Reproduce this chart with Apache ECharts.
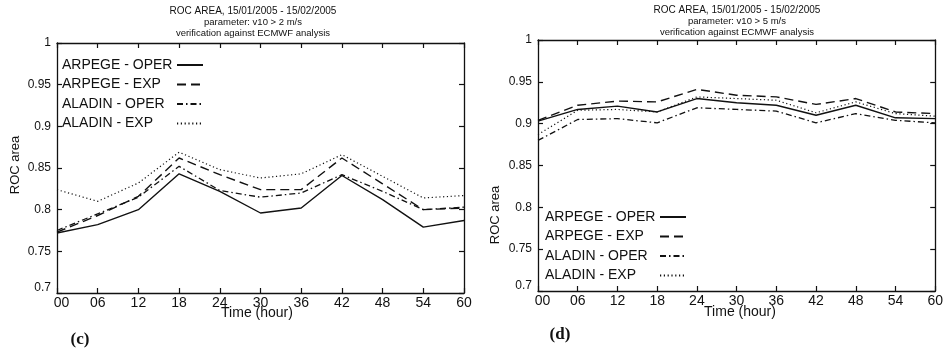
<!DOCTYPE html>
<html>
<head>
<meta charset="utf-8">
<script src="https://cdn.jsdelivr.net/npm/echarts@6/dist/echarts.min.js"></script>
<style>
html,body{margin:0;padding:0;background:#fff;}
#chart{width:946px;height:352px;}
</style>
</head>
<body>
<div id="chart"></div>
<script>
// ---- data ----
const hours = ['00','06','12','18','24','30','36','42','48','54','60'];
const yTickLabels = ['0.7','0.75','0.8','0.85','0.9','0.95','1'];
const seriesNames = ['ARPEGE - OPER','ARPEGE - EXP','ALADIN - OPER','ALADIN - EXP'];

// panel (c): v10 > 2 m/s
const cArpegeOper = [0.772,0.782,0.800,0.843,0.822,0.796,0.802,0.841,0.812,0.779,0.787];
const cArpegeExp  = [0.773,0.793,0.816,0.862,0.842,0.824,0.824,0.862,0.831,0.800,0.802];
const cAladinOper = [0.775,0.795,0.815,0.852,0.823,0.815,0.820,0.842,0.822,0.800,0.803];
const cAladinExp  = [0.824,0.810,0.832,0.869,0.848,0.838,0.843,0.866,0.840,0.814,0.817];

// panel (d): v10 > 5 m/s
const dArpegeOper = [0.903,0.917,0.921,0.914,0.930,0.925,0.922,0.910,0.922,0.907,0.906];
const dArpegeExp  = [0.904,0.922,0.927,0.926,0.941,0.934,0.932,0.923,0.930,0.914,0.912];
const dAladinOper = [0.880,0.905,0.906,0.901,0.919,0.917,0.915,0.901,0.912,0.904,0.901];
const dAladinExp  = [0.887,0.916,0.917,0.914,0.932,0.930,0.928,0.913,0.926,0.912,0.909];

const titleC = ['ROC AREA, 15/01/2005 - 15/02/2005','parameter: v10 > 2 m/s','verification against ECMWF analysis'];
const titleD = ['ROC AREA, 15/01/2005 - 15/02/2005','parameter: v10 > 5 m/s','verification against ECMWF analysis'];

// ---- styling ----
const FONT = "'Liberation Sans', Arial, Helvetica, sans-serif";
const INK = '#111';
const lineStyles = [
  {type:'solid', width:1.4},
  {type:[9,5], width:1.4},
  {type:[6,3,1.5,3], width:1.3},
  {type:[1.2,2.6], width:1.2}
];

const grids = [
  {left:57, top:43, width:407, height:250},
  {left:538, top:40, width:400, height:251}
];

function xAxes(gi){
  const common = {
    type:'category', data:hours, boundaryGap:false, gridIndex:gi,
    axisLine:{show:true, onZero:false, lineStyle:{color:INK, width:1.3}},
    axisTick:{show:true, inside:true, length:5, alignWithLabel:true, lineStyle:{color:INK, width:1.2}},
    splitLine:{show:false}
  };
  return [
    Object.assign({}, common, {position:'bottom',
      axisLabel:{show:true, color:INK, fontSize:14, fontFamily:FONT, margin:3, interval:0,
        formatter:(v,i)=> i===0 ? '{f|'+v+'}' : v,
        rich:{f:{fontSize:14, fontFamily:FONT, color:INK, padding:[0,0,0,9]}}}}),
    Object.assign({}, common, {position:'top', axisLabel:{show:false}})
  ];
}
function yAxes(gi){
  const common = {
    type:'value', min:0.7, max:1, interval:0.05, gridIndex:gi,
    axisLine:{show:true, onZero:false, lineStyle:{color:INK, width:1.3}},
    axisTick:{show:true, inside:true, length:5, lineStyle:{color:INK, width:1.2}},
    splitLine:{show:false}
  };
  return [
    Object.assign({}, common, {position:'left',
      axisLabel:{show:true, color:INK, fontSize:12, fontFamily:FONT, margin:6,
        formatter:(v)=>{ const k=Math.round((v-0.7)/0.05); const s=yTickLabels[k]; return k===0 ? '{b|'+s+'}' : s; },
        rich:{b:{fontSize:12, fontFamily:FONT, color:INK, padding:[0,0,10,0]}}}}),
    Object.assign({}, common, {position:'right', axisLabel:{show:false}})
  ];
}

const cData = [cArpegeOper, cArpegeExp, cAladinOper, cAladinExp];
const dData = [dArpegeOper, dArpegeExp, dAladinOper, dAladinExp];
const series = [];
[cData, dData].forEach((set, gi)=>{
  set.forEach((arr, si)=>{
    series.push({
      name: seriesNames[si], type:'line', data: arr,
      xAxisIndex: gi*2, yAxisIndex: gi*2,
      symbol:'none', showSymbol:false, smooth:false, silent:true, animation:false,
      lineStyle: Object.assign({color:INK}, lineStyles[si]),
      itemStyle:{color:INK}
    });
  });
});

function legendAt(left, top){
  return {
    orient:'vertical', left:left, top:top, align:'right', padding:0,
    data: seriesNames, itemWidth:26, itemHeight:12, itemGap:2.5,
    selectedMode:false,
    itemStyle:{opacity:0},
    formatter: (name)=> '{a|'+name+'}',
    textStyle:{color:INK, fontSize:14, fontFamily:FONT, lineHeight:17,
      rich:{a:{width:110, align:'left', fontSize:14, fontFamily:FONT, color:INK, lineHeight:17}}}
  };
}

function txt(x, y, text, size, opts){
  return Object.assign({
    type:'text', x:x, y:y, silent:true,
    style:{text:text, fill:INK, font: (opts&&opts.font) || (size+'px '+FONT), align:'center', verticalAlign:'middle'}
  }, opts && opts.rotation ? {rotation:opts.rotation} : {});
}

const graphics = [
  txt(253, 11, titleC[0], 10), txt(253, 22.5, titleC[1], 9.5), txt(253, 33, titleC[2], 9.5),
  txt(737, 10, titleD[0], 10), txt(737, 21.5, titleD[1], 9.5), txt(737, 32, titleD[2], 9.5),
  txt(15, 165, 'ROC area', 13, {rotation:Math.PI/2}),
  txt(495, 215, 'ROC area', 13, {rotation:Math.PI/2}),
  txt(257, 313, 'Time (hour)', 14), txt(740, 312, 'Time (hour)', 14),
  txt(80, 340, '(c)', 0, {font:"bold 17px 'Liberation Serif', 'Times New Roman', serif"}),
  txt(560, 335, '(d)', 0, {font:"bold 17px 'Liberation Serif', 'Times New Roman', serif"})
];

const chart = echarts.init(document.getElementById('chart'), null, {renderer:'canvas'});
chart.setOption({
  backgroundColor:'#fff',
  animation:false,
  grid: grids,
  xAxis: [].concat(xAxes(0), xAxes(1)),
  yAxis: [].concat(yAxes(0), yAxes(1)),
  legend: [legendAt(62, 56.5), legendAt(545, 208.5)],
  series: series,
  graphic: graphics
});
</script>
</body>
</html>
